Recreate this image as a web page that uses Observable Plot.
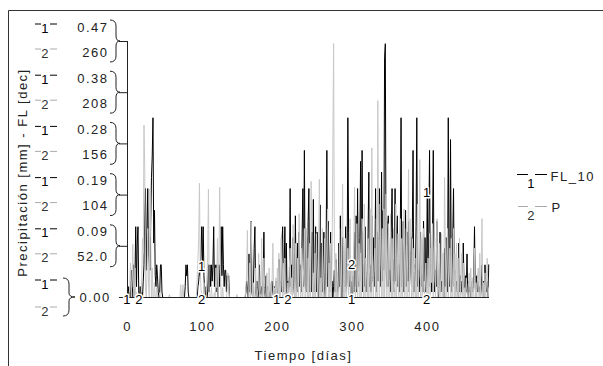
<!DOCTYPE html>
<html><head><meta charset="utf-8">
<script src="https://cdn.jsdelivr.net/npm/d3@7"></script>
<script src="https://cdn.jsdelivr.net/npm/@observablehq/plot@0.6"></script>
<style>
html,body{margin:0;padding:0;background:#fff;}
#chart{width:603px;height:366px;overflow:hidden}
</style></head><body><div id="chart"></div>
<script>
// Daily precipitation P [mm], days 0..482
const P = [
0,0,0,12,35,0,20,54,10,0,
30,0,5,0,0,0,0,0,0,20,
60,45,175,130,10,0,25,70,15,0,
110,60,0,30,0,0,15,0,0,10,
0,0,0,5,0,0,0,0,0,0,
0,0,0,0,0,0,3,0,0,0,
0,0,0,0,0,0,0,0,0,0,
0,13,0,0,13,0,0,0,0,0,
0,0,0,0,0,0,0,0,0,0,
0,0,0,20,40,60,116,30,10,0,
0,0,15,0,0,0,20,40,110,0,
0,0,10,0,0,0,5,0,30,10,
60,0,40,112,30,0,0,10,0,0,
0,0,0,8,25,10,0,0,0,0,
0,0,0,0,0,0,3,0,0,0,
0,0,0,0,0,0,0,0,10,25,
68,0,0,35,0,77,40,0,15,0,
0,30,0,0,10,45,0,0,5,60,
0,0,40,10,0,0,25,0,0,30,
0,15,0,20,55,0,10,0,20,0,
30,0,45,0,0,60,15,0,35,0,
40,0,0,0,15,0,30,50,0,20,
0,74,20,0,55,0,10,40,0,85,
35,0,50,0,0,30,70,0,10,70,
0,40,0,55,0,118,60,0,25,0,
45,0,65,30,0,50,120,0,20,0,
70,0,15,60,0,0,40,90,0,35,
0,55,0,40,150,258,60,0,45,0,
25,0,10,70,0,0,55,115,0,45,
0,60,0,15,50,0,20,80,0,30,
35,0,60,112,0,10,75,0,15,55,
0,45,0,80,65,0,95,0,40,25,
0,60,0,30,90,0,152,20,0,35,
50,0,80,0,200,60,0,95,45,0,
70,0,90,0,30,105,0,25,75,0,
20,85,0,60,0,70,15,0,95,0,
30,65,0,50,80,0,60,0,45,90,
0,20,70,0,55,130,0,80,45,0,
60,0,50,25,0,40,0,95,0,55,
140,0,60,0,45,70,0,10,35,0,
0,40,0,65,0,50,15,75,0,45,
60,0,35,80,0,10,55,0,20,65,
0,45,0,122,60,0,40,70,0,20,
50,0,60,0,15,70,0,45,0,55,
0,40,0,60,0,20,45,0,35,0,
10,0,20,5,0,15,25,0,30,0,
20,0,10,50,0,15,0,20,30,0,
45,0,35,80,0,15,0,25,0,20,
40,0,10
];
// Daily FL_10 [dec], days 0..482
const FL = [
0,0.02,0,0.01,0,0.05,0,0.02,0.06,0,
0.04,0.13,0.02,0.10,0.13,0.01,0,0.02,0,0.01,
0,0.03,0.06,0.15,0.20,0.05,0.12,0.20,0.08,0.06,
0.05,0.14,0.22,0.26,0.33,0.10,0.16,0.04,0.02,0.06,
0.04,0.01,0,0.01,0.06,0.06,0.01,0,0,0,
0,0,0,0,0,0,0,0,0,0,
0,0,0,0,0,0,0,0,0,0,
0,0,0,0,0,0,0,0.02,0.06,0.04,
0.06,0.01,0,0,0,0,0,0,0,0,
0,0,0,0,0.02,0.03,0.05,0.04,0.08,0.13,
0.06,0.13,0.04,0.01,0,0.02,0,0.01,0.06,0.01,
0.06,0.02,0.06,0.03,0.06,0.13,0.02,0.06,0.01,0.06,
0.03,0,0.06,0.02,0.06,0.13,0.04,0.13,0.06,0.02,
0.05,0.05,0.01,0.04,0.03,0.04,0,0,0,0,
0,0,0,0,0,0,0,0,0,0,
0,0,0,0,0,0,0,0,0.01,0.03,
0.02,0,0.08,0.01,0.03,0.14,0.01,0,0.02,0.09,
0.13,0.01,0,0.03,0,0.01,0.06,0,0.01,0.02,
0,0.03,0.12,0.01,0,0.04,0,0.02,0,0.01,
0,0.02,0,0.03,0.01,0,0.02,0,0.03,0,
0,0.02,0.07,0,0.03,0.01,0.10,0.13,0.01,0.05,
0.13,0.01,0.10,0,0.03,0.01,0.04,0.20,0.02,0.06,
0.01,0.11,0.02,0,0.15,0.03,0.01,0.10,0.02,0.12,
0.02,0.06,0.01,0.12,0.20,0.02,0.27,0.03,0.01,0.11,
0.02,0.14,0.20,0.01,0.05,0.01,0.12,0.02,0.18,0.01,
0.03,0.13,0.01,0.12,0.02,0,0.06,0.17,0.01,0.10,
0.01,0.04,0.12,0.02,0,0.10,0.27,0.02,0.14,0.01,
0.03,0.12,0.01,0.03,0,0.02,0.05,0.01,0.07,0,
0.03,0.01,0.10,0.02,0.15,0.03,0,0.11,0.01,0.05,
0.02,0.13,0.01,0.04,0.33,0.12,0.02,0.06,0,0.03,
0,0.04,0.01,0.12,0.02,0.15,0.01,0.20,0.03,0.02,
0.11,0.25,0.03,0.27,0.01,0.06,0.02,0.13,0.01,0.05,
0.01,0.12,0.23,0.02,0.06,0.01,0.15,0.03,0.11,0.02,
0.05,0.20,0.01,0.12,0.03,0.14,0.20,0.02,0.06,0.23,
0.03,0.16,0.05,0.44,0.466,0.06,0.02,0.13,0.15,0.02,
0.05,0.01,0.12,0.20,0.03,0.07,0.01,0.20,0.03,0.13,
0.15,0.02,0.06,0.01,0.12,0.33,0.02,0.05,0.14,0.01,
0.06,0.16,0.02,0.12,0.03,0.14,0.01,0.05,0.11,0.02,
0.12,0.27,0.01,0.06,0.03,0.13,0.33,0.02,0.05,0.01,
0.04,0.12,0.02,0.06,0.01,0.14,0.03,0.11,0.01,0.05,
0.196,0.02,0.12,0.27,0.02,0.06,0.01,0.13,0.27,0.03,
0.01,0.05,0.02,0.14,0.03,0,0.04,0.12,0.01,0.03,
0.01,0.03,0,0.09,0.02,0.11,0.03,0.01,0.33,0.05,
0.02,0.29,0.04,0.01,0.11,0.20,0.02,0.05,0.01,0.03,
0.02,0,0.10,0.01,0.04,0.01,0.03,0,0.10,0.02,
0.01,0.04,0.01,0.08,0,0.03,0.01,0.02,0,0.02,
0.03,0.01,0.04,0.13,0.02,0,0.04,0.01,0.03,0.01,
0.02,0,0.02,0.06,0.01,0.03,0,0.06,0.02,0.01,
0.03,0,0.06
];
const pMax = 260, flMax = 0.47, dayMax = 483;
const pTicks = [52, 104, 156, 208, 260];
const pTickLabels = ["52.0", "104", "156", "208", "260"];
const flTickLabels = ["0.09", "0.19", "0.28", "0.38", "0.47"];
const xTicks = [0, 100, 200, 300, 400];
const marker1Days = [0, 100, 200, 300, 400];
const marker2Days = [16, 100, 215, 300, 400];
const seriesNames = ["FL_10", "P"];
const xTitle = "Tiempo [días]";
const yTitle = "Precipitación [mm] - FL [dec]";

const pData = P.map((v, i) => ({day: i, v}));
const flData = FL.map((v, i) => ({day: i, v: v * pMax / flMax}));
const ink = "#222";

const chart = Plot.plot({
  width: 603, height: 366,
  marginLeft: 127, marginRight: 114, marginTop: 41, marginBottom: 69,
  style: {fontFamily: "'Liberation Sans', Arial, sans-serif", fontSize: "13px", color: ink, background: "#fff", letterSpacing: "1.5px"},
  x: {domain: [0, dayMax], label: null},
  y: {domain: [0, pMax], label: null},
  marks: [
    Plot.line(flData, {x: "day", y: "v", stroke: "#000", strokeWidth: 1}),
    Plot.line(pData, {x: "day", y: "v", stroke: "#c8c8c8", strokeWidth: 1}),
    Plot.ruleX([0], {stroke: ink}),
    Plot.ruleY([0], {stroke: ink}),
    Plot.axisY({ticks: [0, ...pTicks], tickSize: 8, tickFormat: () => "", label: null, stroke: ink}),
    Plot.axisX({ticks: xTicks, tickSize: 0, tickPadding: 24, label: null, fill: ink}),
    // left tick labels
    Plot.text(pTicks, {y: d => d, text: (d, i) => flTickLabels[i], frameAnchor: "left", dx: -19, dy: -14, textAnchor: "end", fill: ink}),
    Plot.text(pTicks, {y: d => d, text: (d, i) => pTickLabels[i], frameAnchor: "left", dx: -19, dy: 11, textAnchor: "end", fill: ink}),
    Plot.text([0], {y: d => d, text: () => "0.00", frameAnchor: "left", dx: -48, textAnchor: "start", fill: ink}),
    Plot.text(pTicks, {y: d => d, text: () => "1", frameAnchor: "left", dx: -82, dy: -13, textAnchor: "middle", fill: "#000"}),
    Plot.text(pTicks, {y: d => d, text: () => "2", frameAnchor: "left", dx: -82, dy: 12, textAnchor: "middle", fill: "#333"}),
    Plot.text([0], {y: d => d, text: () => "1", frameAnchor: "left", dx: -82, dy: -13, textAnchor: "middle", fill: "#000"}),
    Plot.text([0], {y: d => d, text: () => "2", frameAnchor: "left", dx: -82, dy: 14, textAnchor: "middle", fill: "#333"}),
    // line markers
    Plot.text(marker2Days, {x: d => d, y: d => P[d], text: () => "2", fill: "#000", stroke: "#fff", strokeWidth: 3, paintOrder: "stroke", dy: 2}),
    Plot.text(marker1Days, {x: d => d, y: d => FL[d] * pMax / flMax, text: () => "1", fill: "#000", stroke: "#fff", strokeWidth: 3, paintOrder: "stroke", dy: 2}),
    // titles
    Plot.text([xTitle], {frameAnchor: "bottom", textAnchor: "middle", dx: -5, dy: 62, fill: ink}),
    Plot.text([yTitle], {frameAnchor: "left", textAnchor: "middle", dx: -105, dy: 3, rotate: -90, fill: ink, ariaLabel: "ytitle"}),
    // legend
    Plot.text([seriesNames[0]], {frameAnchor: "top-right", dx: 61, dy: 130, textAnchor: "start", fill: ink}),
    Plot.text(["1"], {frameAnchor: "top-right", dx: 42, dy: 137, textAnchor: "middle", fill: "#000"}),
    Plot.text([seriesNames[1]], {frameAnchor: "top-right", dx: 62, dy: 161, textAnchor: "start", fill: ink}),
    Plot.text(["2"], {frameAnchor: "top-right", dx: 42, dy: 169, textAnchor: "middle", fill: "#333"})
  ]
});
document.getElementById("chart").appendChild(chart);

// decorations: frame lines, braces, sample dashes
const svg = d3.select(chart);
svg.select('[aria-label="ytitle"]').style("letter-spacing", "0.5px");
const yS = chart.scale("y");
const y = v => yS.apply(v);
const deco = svg.append("g").attr("fill", "none").attr("stroke-width", 1);
deco.append("path").attr("stroke", "#333").attr("d", "M8.5,366 L8.5,10.5 L603,10.5");
pTicks.forEach(v => {
  const t = y(v);
  deco.append("path").attr("stroke", ink)
    .attr("d", `M110,${t-21} Q116,${t-21} 116,${t-15} L116,${t-5} Q116,${t} 120,${t} Q116,${t} 116,${t+5} L116,${t+15} Q116,${t+21} 110,${t+21}`);
  deco.append("path").attr("stroke", "#000").attr("d", `M35,${t-17} H41 M50,${t-17} H57`);
  deco.append("path").attr("stroke", "#aaa").attr("d", `M35,${t+8} H41 M50,${t+8} H57`);
});
{
  const t = y(0);
  deco.append("path").attr("stroke", ink)
    .attr("d", `M63,${t-19} Q69,${t-19} 69,${t-13} L69,${t-4} Q69,${t} 75,${t} Q69,${t} 69,${t+4} L69,${t+13} Q69,${t+19} 63,${t+19}`);
  deco.append("path").attr("stroke", "#000").attr("d", `M35,${t-17} H41 M50,${t-17} H57`);
  deco.append("path").attr("stroke", "#aaa").attr("d", `M35,${t+10} H41 M50,${t+10} H57`);
}
deco.append("path").attr("stroke", "#000").attr("d", "M517,174.5 H528 M535,174.5 H547");
deco.append("path").attr("stroke", "#aaa").attr("d", "M518,206.5 H528 M535,206.5 H547");
</script></body></html>
